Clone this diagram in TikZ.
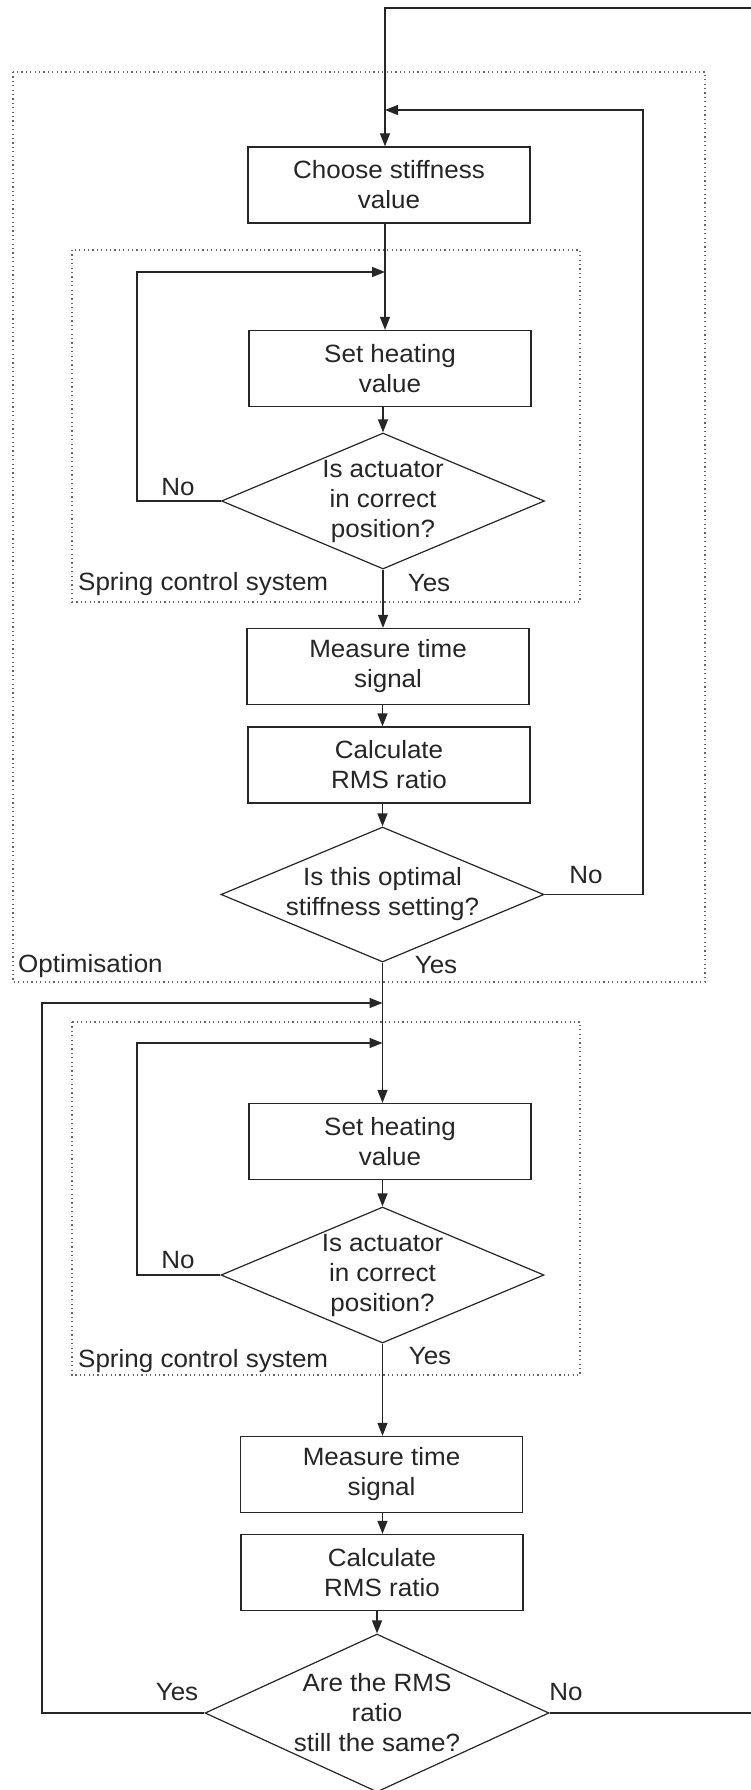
\documentclass[tikz,border=0pt]{standalone}
\usepackage{fontspec}
\setmainfont{Liberation Sans}[FakeStretch=1.04]
\usetikzlibrary{shapes.geometric,arrows.meta}
\begin{document}
\begin{tikzpicture}[x=1pt,y=-1pt,
  every node/.style={font=\fontsize{25}{30}\selectfont, text=black!85},
  box/.style={draw=black!85, line width=1.3pt, minimum width=282pt, minimum height=76pt, align=center, inner sep=0pt},
  dia/.style={draw=black!85, line width=1.2pt, shape=diamond, inner sep=0pt},
  dtext/.style={align=center, inner sep=0pt},
  conn/.style={draw=black!85, line width=1.3pt},
  arr/.style={conn, -{Triangle[length=13pt,width=10pt]}},
  dots/.style={draw=black!60, line width=1.2pt, dash pattern=on 1.2pt off 3.2pt},
  lab/.style={anchor=base, inner sep=0pt},
]
\fill[white] (0,0) rectangle (751,1790);
\useasboundingbox (0,0) rectangle (751,1790);

% group frames
\draw[dots] (13,72) rectangle (705,982);
\draw[dots] (72,250) rectangle (580,602);
\draw[dots] (72,1022) rectangle (580,1375);

\coordinate (axA) at (385,0);
\coordinate (axB) at (382.5,0);

% top part
\node[box] (choose) at (389,185) {Choose stiffness\\value};
\node[box] (set1) at (390,368.5) {Set heating\\value};
\node[dia, minimum width=323pt, minimum height=136pt] (d1) at (383,501) {};
\node[dtext] (d1t) at (d1.center) {Is actuator\\in correct\\position?};
\node[box] (meas1) at (388,666.5) {Measure time\\signal};
\node[box] (calc1) at (389,765) {Calculate\\RMS ratio};
\node[dia, minimum width=323pt, minimum height=135pt] (d2) at (382.5,894.5) {};
\node[dtext] (d2t) at (d2.center) {Is this optimal\\stiffness setting?};

% bottom part
\node[box] (set2) at (390,1141.5) {Set heating\\value};
\node[dia, minimum width=323pt, minimum height=136pt] (d3) at (382.5,1275) {};
\node[dtext] (d3t) at (d3.center) {Is actuator\\in correct\\position?};
\node[box] (meas2) at (381.5,1474.5) {Measure time\\signal};
\node[box] (calc2) at (382,1572.5) {Calculate\\RMS ratio};
\node[dia, minimum width=344pt, minimum height=158pt] (d4) at (377,1713) {};
\node[dtext] (d4t) at (d4.center) {Are the RMS\\ratio\\still the same?};

% labels
\node[lab] (no1) at (178,495) {No};
\node[lab] (yes1) at (429,591) {Yes};
\node[lab, anchor=base west] (spr1) at (78,590) {Spring control system};
\node[lab] (no2) at (586,883) {No};
\node[lab] (yes2) at (436,973) {Yes};
\node[lab, anchor=base west] (opt) at (18,972) {Optimisation};
\node[lab] (no3) at (178,1268) {No};
\node[lab] (yes3) at (430,1364) {Yes};
\node[lab, anchor=base west] (spr2) at (78,1367) {Spring control system};
\node[lab] (yes4) at (177,1700) {Yes};
\node[lab] (no4) at (566,1700) {No};

% connectors top
\coordinate (topR) at (751,8);
\draw[arr] (topR) -- (topR -| axA) -- (choose.north -| axA);
\coordinate (ret1) at (643,110);
\draw[arr] (d2.east) -| (ret1) -- (ret1 -| axA);
\draw[arr] (choose.south -| axA) -- (set1.north -| axA);
\coordinate (l1) at (137,272);
\draw[arr] (d1.west) -| (l1) -- (l1 -| axA);
\draw[arr] (set1.south -| d1.north) -- (d1.north);
\draw[arr] (d1.south) -- (meas1.north -| d1.south);
\draw[arr] (meas1.south -| d2.north) -- (calc1.north -| d2.north);
\draw[arr] (calc1.south -| d2.north) -- (d2.north);

% connectors bottom
\draw[arr] (d2.south) -- (set2.north -| axB);
\coordinate (l0) at (42,1003);
\draw[arr] (d4.west) -| (l0) -- (l0 -| axB);
\coordinate (l2) at (137,1043);
\draw[arr] (d3.west) -| (l2) -- (l2 -| axB);
\draw[arr] (set2.south -| d3.north) -- (d3.north);
\draw[arr] (d3.south) -- (meas2.north -| d3.south);
\draw[arr] (meas2.south -| axB) -- (calc2.north -| axB);
\draw[arr] (calc2.south -| d4.north) -- (d4.north);
\coordinate (botR) at (751,1713);
\draw[conn] (d4.east) -- (botR);
\end{tikzpicture}
\end{document}
